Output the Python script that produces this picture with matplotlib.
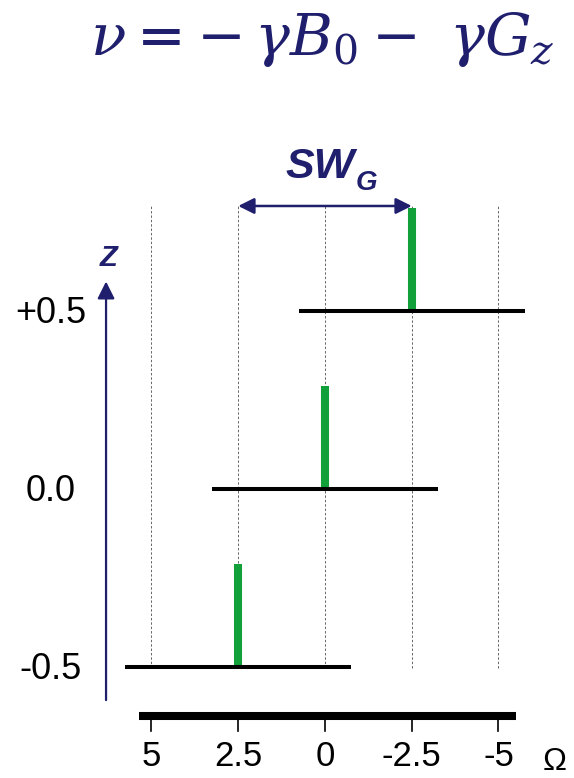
import numpy as np
import matplotlib
matplotlib.use("Agg")
import matplotlib.pyplot as plt

# slice positions along z and where each slice's line lands in Omega
z_levels = [-0.5, 0.0, 0.5]
z_labels = ["-0.5", "0.0", "+0.5"]
peak_omega = [2.5, 0.0, -2.5]
peak_height = 0.29
band_halfwidth = 3.25

omega_ticks = [5, 2.5, 0, -2.5, -5]
omega_labels = ["5", "2.5", "0", "-2.5", "-5"]
axis_span = [5.35, -5.5]

navy = "#1f1f6e"
green = "#11a03a"

plt.rcParams["font.family"] = ["Liberation Sans", "DejaVu Sans"]
plt.rcParams["mathtext.fontset"] = "dejavuserif"

fig = plt.figure(figsize=(5.74, 7.78), dpi=100)
ax = fig.add_axes([0, 0, 1, 1])
ax.set_xlim(9.366, -7.176)
ax.set_ylim(-0.8118, 1.3736)
ax.axis("off")

# dashed guide lines at each tick
for om in omega_ticks:
    ax.plot([om, om], [-0.503, 0.798], color="#666666", lw=0.7,
            ls=(0, (2.5, 2)), zorder=1)

# baseline and green line for each slice
for z, om in zip(z_levels, peak_omega):
    ax.plot([om - band_halfwidth, om + band_halfwidth], [z, z],
            color="black", lw=2.9, solid_capstyle="butt", zorder=3)
    ax.plot([om, om], [z, z + peak_height], color=green, lw=5.8,
            solid_capstyle="butt", zorder=2)

# z labels
for z, lab in zip(z_levels, z_labels):
    ax.text(7.9, z - 0.006, lab, ha="center", va="center", fontsize=26)

# z axis arrow
ax.annotate("", xy=(6.31, 0.583), xytext=(6.31, -0.593),
            arrowprops=dict(arrowstyle="-|>", color=navy, lw=1.6,
                            mutation_scale=26, shrinkA=0, shrinkB=0))
ax.text(6.25, 0.65, "Z", ha="center", va="center", fontsize=21,
        fontstyle="italic", fontweight="bold", color=navy)

# Omega axis
ax.plot(axis_span, [-0.6376, -0.6376], color="black", lw=5.8,
        solid_capstyle="butt")
for om, lab in zip(omega_ticks, omega_labels):
    ax.plot([om, om], [-0.6376, -0.68], color="black", lw=1.2)
    ax.text(om, -0.752, lab, ha="center", va="center", fontsize=25)
ax.text(-6.62, -0.766, "Ω", ha="center", va="center", fontsize=23)

# sweep width arrow
ax.annotate("", xy=(-2.5, 0.795), xytext=(2.5, 0.795),
            arrowprops=dict(arrowstyle="<|-|>", color=navy, lw=1.8,
                            mutation_scale=24, shrinkA=0, shrinkB=0))
ax.text(-0.87, 0.8736, "SW", ha="right", va="baseline", fontsize=31,
        fontstyle="italic", fontweight="bold", color=navy)
ax.text(-0.87, 0.840, "G", ha="left", va="baseline", fontsize=20,
        fontstyle="italic", fontweight="bold", color=navy)

# resonance condition
ax.text(0.09, 1.262, r"$\nu = -\,\gamma B_0 -\ \gamma G_z$",
        ha="center", va="center", fontsize=42, color=navy)

fig.savefig("out.png", dpi=100)
